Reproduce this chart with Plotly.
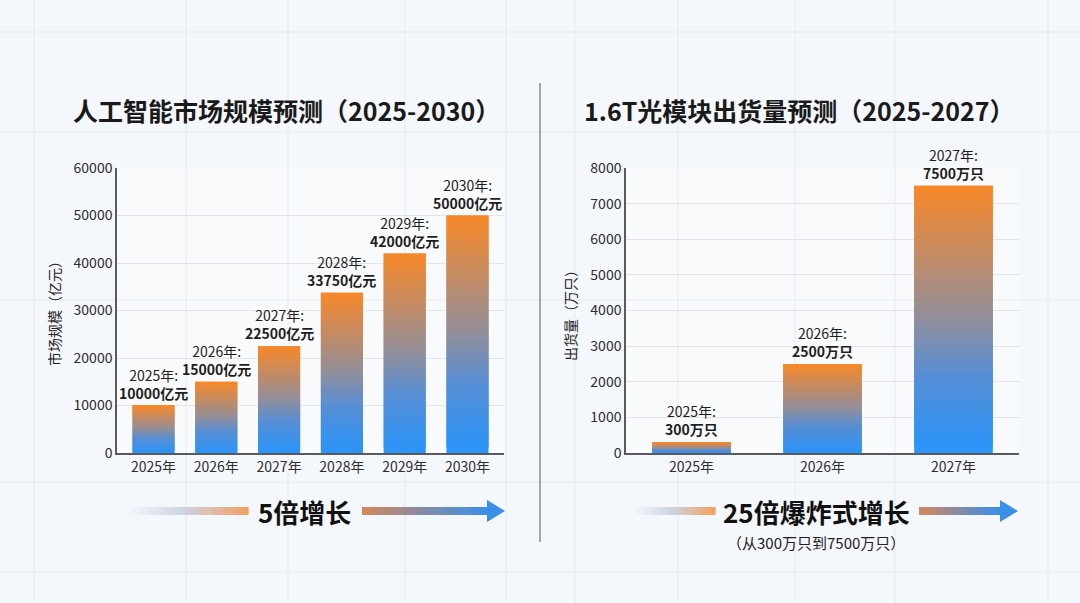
import plotly.graph_objects as go

# chart data
ai_years = ['2025年', '2026年', '2027年', '2028年', '2029年', '2030年']
ai_market = [10000, 15000, 22500, 33750, 42000, 50000]   # 亿元
ai_ticks = [0, 10000, 20000, 30000, 40000, 50000, 60000]

om_years = ['2025年', '2026年', '2027年']
om_shipments = [300, 2500, 7500]   # 万只
om_ticks = [0, 1000, 2000, 3000, 4000, 5000, 6000, 7000, 8000]

W, H = 1080, 603
FONT = 'Noto Sans CJK SC'
BG = '#f4f7fb'
N_SEG = 40

# colour stops for the bar gradient, 0 = bottom of bar, 1 = top
stops = [(0.0, (40, 148, 250)), (0.3, (88, 142, 212)),
         (0.5, (145, 142, 155)), (1.0, (248, 136, 40))]


def grad(f, cs=stops):
    for (f0, c0), (f1, c1) in zip(cs[:-1], cs[1:]):
        if f <= f1:
            t = (f - f0) / (f1 - f0)
            return 'rgb(%d,%d,%d)' % tuple(round(a + (b - a) * t) for a, b in zip(c0, c1))
    return 'rgb(%d,%d,%d)' % cs[-1][1]


def px(x):
    return x / W


def py(y):
    return 1 - y / H


def note(x, y, text, size, color='#1a1a1a', **kw):
    fig.add_annotation(x=px(x), y=py(y), xref='paper', yref='paper', showarrow=False,
                       xanchor='center', yanchor='middle', text=text,
                       font=dict(family=FONT, size=size, color=color), **kw)


fig = go.Figure()


def gradient_bars(cats, vals, xa, ya, width, unit):
    # each bar is drawn as a pile of thin slices so it can fade orange -> blue
    for k in range(N_SEG):
        top = k == N_SEG - 1
        fig.add_trace(go.Bar(
            x=cats,
            y=[v / N_SEG * (1 if top else 2.0) for v in vals],
            base=[v * k / N_SEG for v in vals],
            marker=dict(color=grad((k + 0.5) / N_SEG), line_width=0, opacity=1),
            width=width, xaxis=xa, yaxis=ya,
            showlegend=False, hoverinfo='skip'))
    for c, v in zip(cats, vals):
        fig.add_annotation(x=c, y=v, xref=xa, yref=ya, yanchor='bottom', yshift=1,
                           text='%s:<br><b>%d%s</b>' % (c, v, unit), showarrow=False,
                           font=dict(family=FONT, size=14, color='#1e1e1e'))


gradient_bars(ai_years, ai_market, 'x', 'y', 0.67, '亿元')
gradient_bars(om_years, om_shipments, 'x2', 'y2', 0.6, '万只')

axis_common = dict(showline=True, linecolor='#5a5a5a', linewidth=1.5, zeroline=False,
                   automargin=False, ticks='',
                   tickfont=dict(family=FONT, size=14, color='#2e2e2e'), fixedrange=True)
ydom = [py(453), py(168)]

fig.update_layout(
    width=W, height=H,
    margin=dict(l=0, r=0, t=0, b=0, pad=0, autoexpand=False),
    paper_bgcolor=BG,
    plot_bgcolor='rgba(255,255,255,0.35)',
    barmode='overlay',
    xaxis=dict(domain=[px(117), px(504)], showgrid=False, **axis_common),
    yaxis=dict(domain=ydom, range=[0, 60000], tickvals=ai_ticks, tickformat='d', showgrid=True,
               gridcolor='#e1e4e9', gridwidth=1, **axis_common),
    xaxis2=dict(domain=[px(626), px(1019)], anchor='y2', showgrid=False, **axis_common),
    yaxis2=dict(domain=ydom, range=[0, 8000], tickvals=om_ticks, tickformat='d', anchor='x2',
                showgrid=True, gridcolor='#e1e4e9', gridwidth=1, **axis_common),
)

# faint background grid
for gx in [34, 186, 288, 405, 506, 575, 678, 795, 895, 1048]:
    fig.add_shape(type='line', xref='paper', yref='paper', x0=px(gx), x1=px(gx), y0=0, y1=1,
                  line=dict(color='#e6ebf1', width=1), layer='below')
for gy in [32, 132, 300, 482, 572]:
    fig.add_shape(type='line', xref='paper', yref='paper', x0=0, x1=1, y0=py(gy), y1=py(gy),
                  line=dict(color='#e6ebf1', width=1), layer='below')

# divider
fig.add_shape(type='line', xref='paper', yref='paper', x0=px(540), x1=px(540),
              y0=py(83), y1=py(542), line=dict(color='#555555', width=1))

# titles
note(286, 110, '<b>人工智能市场规模预测（2025-2030）</b>', 25)
note(799, 110, '<b>1.6T光模块出货量预测（2025-2027）</b>', 25)

# y-axis titles
note(54, 310, '市场规模（亿元）', 14, '#222222', textangle=-90)
note(570, 312, '出货量（万只）', 14, '#222222', textangle=-90)


def grad_strip(x0, x1, yc, cs, n=40, h=8):
    step = (x1 - x0) / n
    for i in range(n):
        fig.add_shape(type='rect', xref='paper', yref='paper',
                      x0=px(x0 + i * step), x1=px(x0 + (i + 1) * step + 0.6),
                      y0=py(yc + h / 2), y1=py(yc - h / 2),
                      fillcolor=grad((i + 0.5) / n, cs), line_width=0)


fade_cs = [(0.0, (244, 247, 251)), (0.45, (205, 214, 228)), (1.0, (243, 160, 95))]
arrow_cs = [(0.0, (214, 134, 88)), (0.5, (130, 140, 165)), (1.0, (58, 143, 232))]


def growth_arrow(lx0, lx1, tx, sx0, sx1, hx, yc, label):
    grad_strip(lx0, lx1, yc, fade_cs)
    grad_strip(sx0, sx1, yc, arrow_cs)
    fig.add_shape(type='path', xref='paper', yref='paper',
                  path='M %f %f L %f %f L %f %f Z' % (px(sx1), py(yc - 11), px(hx), py(yc),
                                                     px(sx1), py(yc + 11)),
                  fillcolor='rgb(58,143,232)', line_width=0)
    note(tx, yc, '<b>%s</b>' % label, 26, '#111111')


growth_arrow(127, 248, 304, 362, 487, 505, 511, '5倍增长')
growth_arrow(634, 715, 816, 919, 1000, 1018, 511, '25倍爆炸式增长')
note(816, 542, '（从300万只到7500万只）', 15, '#222222')

# pin the figure to the top-left corner of the page
fix_page = (
    "var s='margin:0;padding:0;overflow:hidden;background:%s;';"
    "document.documentElement.style.cssText+=s;document.body.style.cssText+=s;"
    "var g=document.querySelector('.plotly-graph-div');"
    "g.style.position='fixed';g.style.left='0px';g.style.top='0px';" % BG
)
fig.write_html('out.html', config={'displayModeBar': False}, post_script=fix_page)
